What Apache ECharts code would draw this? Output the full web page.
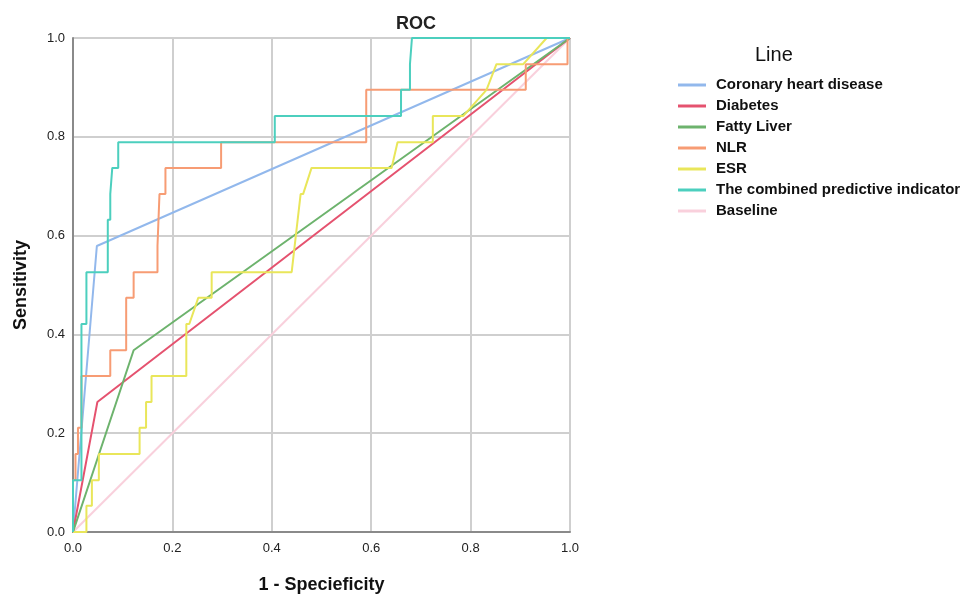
<!DOCTYPE html>
<html><head><meta charset="utf-8">
<script src="https://cdn.jsdelivr.net/npm/echarts@6/dist/echarts.min.js"></script>
<style>html,body{margin:0;padding:0;background:#fff}#c{width:966px;height:599px}</style>
</head><body><div id="c"></div>
<script>
const seriesNames = ["Coronary heart disease","Diabetes","Fatty Liver","NLR","ESR","The combined predictive indicator","Baseline"];
const seriesColors = ["#92b8ec","#e5526f","#6db36d","#f79c74","#e9e65a","#4ccfbe","#f9d0dc"];
const xTicks = [0,0.2,0.4,0.6,0.8,1.0];
const chd = [[0,0],[0.048,0.579],[1,1]];
const diabetes = [[0,0],[0.049,0.263],[1,1]];
const fattyLiver = [[0,0],[0.122,0.368],[1,1]];
const nlr = [[0,0],[0,0.105],[0.005,0.105],[0.005,0.158],[0.01,0.158],[0.01,0.211],[0.017,0.211],[0.017,0.316],[0.075,0.316],[0.075,0.368],[0.107,0.368],[0.107,0.474],[0.122,0.474],[0.122,0.526],[0.17,0.526],[0.17,0.579],[0.174,0.579],[0.174,0.684],[0.186,0.684],[0.186,0.737],[0.298,0.737],[0.298,0.789],[0.59,0.789],[0.59,0.895],[0.911,0.895],[0.911,0.947],[0.995,0.947],[0.995,1],[1,1]];
const esr = [[0,0],[0.027,0],[0.027,0.053],[0.038,0.053],[0.038,0.105],[0.052,0.105],[0.052,0.158],[0.134,0.158],[0.134,0.211],[0.147,0.211],[0.147,0.263],[0.158,0.263],[0.158,0.316],[0.228,0.316],[0.228,0.421],[0.234,0.421],[0.252,0.474],[0.279,0.474],[0.279,0.526],[0.44,0.526],[0.452,0.632],[0.458,0.684],[0.463,0.684],[0.48,0.737],[0.641,0.737],[0.653,0.789],[0.724,0.789],[0.724,0.842],[0.785,0.842],[0.832,0.895],[0.852,0.947],[0.906,0.947],[0.953,1],[1,1]];
const combined = [[0,0],[0,0.105],[0.017,0.105],[0.017,0.421],[0.027,0.421],[0.027,0.526],[0.07,0.526],[0.07,0.632],[0.075,0.632],[0.075,0.684],[0.079,0.684],[0.079,0.737],[0.091,0.737],[0.091,0.789],[0.406,0.789],[0.406,0.842],[0.66,0.842],[0.66,0.895],[0.678,0.895],[0.678,0.947],[0.682,1],[1,1]];
const baseline = [[0,0],[1,1]];
const allData = [chd, diabetes, fattyLiver, nlr, esr, combined, baseline];

const chart = echarts.init(document.getElementById('c'), null, {renderer:'canvas'});
const font = "'Liberation Sans', Arial, sans-serif";
const drawOrder = [6,0,1,2,3,4,5];
const series = drawOrder.map(i => ({
  name: seriesNames[i], type: 'line', data: allData[i], showSymbol: false, symbol: 'none',
  lineStyle: {color: seriesColors[i], width: 2}, itemStyle: {color: seriesColors[i]},
  animation: false, z: i === 6 ? 1 : 2
}));
chart.setOption({
  backgroundColor: '#fff',
  animation: false,
  title: {text: 'ROC', left: 411, top: 10, textAlign: 'center',
    textStyle: {fontFamily: font, fontSize: 18, fontWeight: 'bold', color: '#222'}},
  grid: {left: 73, top: 38, width: 497, height: 498, containLabel: false},
  legend: {
    data: seriesNames, orient: 'vertical', left: 673, top: 72,
    icon: 'rect', itemWidth: 28, itemHeight: 3, itemGap: 5,
    textStyle: {fontFamily: font, fontSize: 15, fontWeight: 'bold', color: '#111', lineHeight: 16, padding: [0,0,0,5]}
  },
  graphic: [{type: 'text', left: 755, top: 45, style: {text: 'Line', font: "500 20px 'Liberation Sans', Arial, sans-serif", fill: '#111'}}],
  xAxis: {
    type: 'value', min: 0, max: 1, interval: 0.2,
    name: '1 - Specieficity', nameLocation: 'middle', nameGap: 44,
    nameTextStyle: {fontFamily: font, fontSize: 18, fontWeight: 'bold', color: '#111'},
    axisLine: {show: true, lineStyle: {color: '#8a8a8a', width: 2}},
    axisTick: {show: false},
    axisLabel: {formatter: v => v.toFixed(1), fontFamily: font, fontSize: 13, color: '#222', margin: 10},
    splitLine: {show: true, lineStyle: {color: '#cfcfcf', width: 2}}
  },
  yAxis: {
    type: 'value', min: 0, max: 1, interval: 0.2,
    name: 'Sensitivity', nameLocation: 'middle', nameGap: 43,
    nameTextStyle: {fontFamily: font, fontSize: 18, fontWeight: 'bold', color: '#111'},
    axisLine: {show: true, lineStyle: {color: '#8a8a8a', width: 2}},
    axisTick: {show: false},
    axisLabel: {formatter: v => v.toFixed(1), fontFamily: font, fontSize: 13, color: '#222', margin: 8},
    splitLine: {show: true, lineStyle: {color: '#cfcfcf', width: 2}}
  },
  series: series
});
</script></body></html>
